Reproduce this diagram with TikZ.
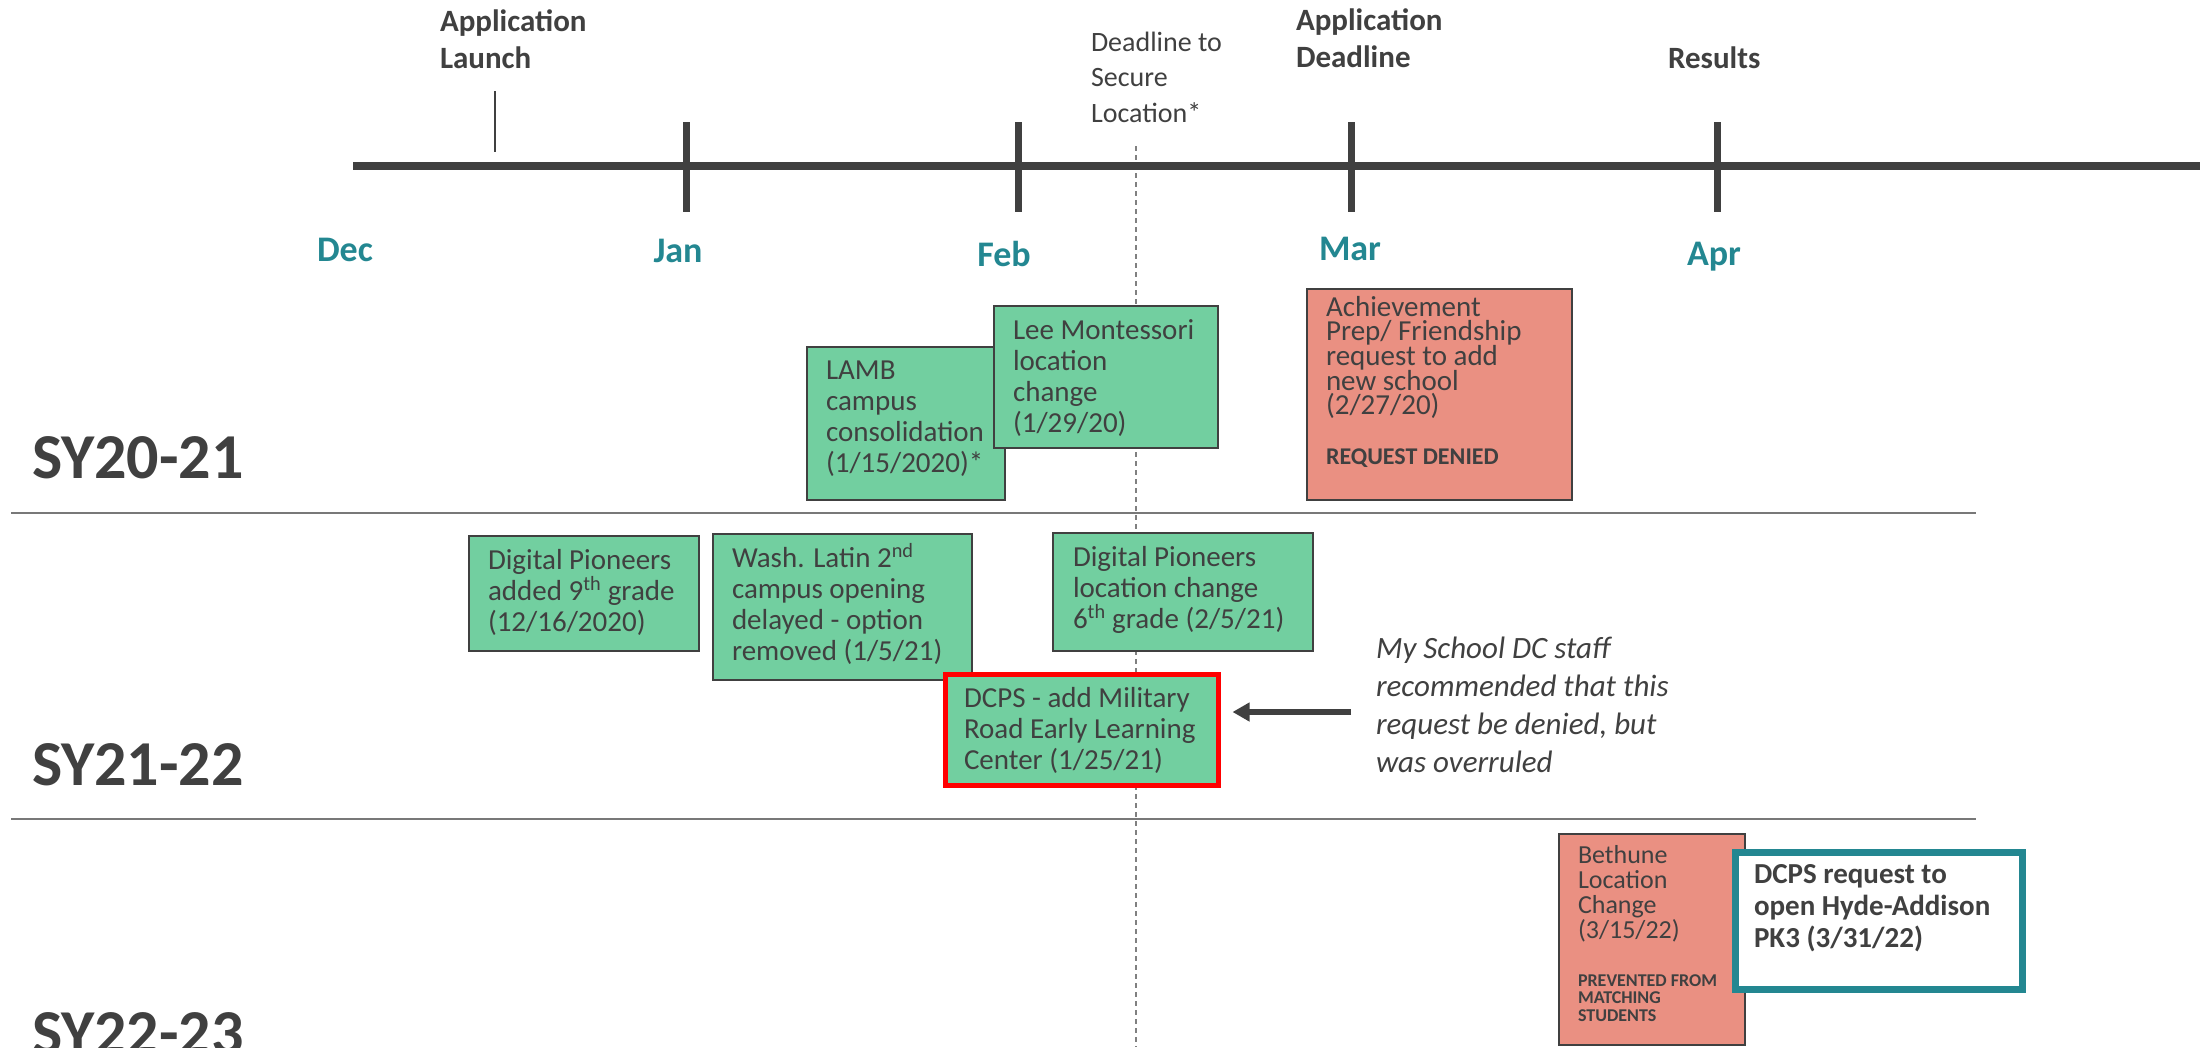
\documentclass[tikz,border=0pt]{standalone}
\usepackage{fontspec}
\setmainfont{Carlito}
\usetikzlibrary{arrows.meta}
\definecolor{txt}{RGB}{64,64,64}
\definecolor{gfill}{RGB}{114,207,160}
\definecolor{pfill}{RGB}{234,144,130}
\definecolor{monthteal}{RGB}{35,135,145}
\definecolor{sepgray}{RGB}{120,120,120}
\definecolor{dashgray}{RGB}{128,128,128}
\newcommand{\ml}[1]{\vtop{\lineskiplimit=-100pt\lineskip=0pt\halign{##\hfil\cr#1\crcr}}}
\begin{document}
\begin{tikzpicture}[x=1pt,y=-1pt,
  boxbase/.style={rectangle, anchor=north west, inner sep=0pt, outer sep=0pt},
  gbox/.style={boxbase, draw=txt, line width=2pt, fill=gfill},
  pbox/.style={boxbase, draw=txt, line width=2pt, fill=pfill},
  redbox/.style={boxbase, draw=red, line width=5pt, fill=gfill},
  tealbox/.style={boxbase, draw=monthteal, line width=7pt, fill=white},
  tx/.style={anchor=base west, inner sep=0pt, outer sep=0pt, text=txt},
  boxtext/.style={tx, font=\fontsize{29}{31}\selectfont},
  tighttext/.style={tx, font=\fontsize{29}{24.7}\selectfont},
  headbold/.style={tx, font=\fontsize{31}{37}\selectfont\bfseries},
  month/.style={anchor=base, inner sep=0pt, text=monthteal, font=\fontsize{36}{40}\selectfont\bfseries},
  yearlabel/.style={tx, font=\fontsize{64}{70}\selectfont\bfseries},
  axisline/.style={draw=txt, line width=8pt},
  tickline/.style={draw=txt, line width=7pt},
  sepline/.style={draw=sepgray, line width=2pt},
  dashline/.style={draw=dashgray, line width=1.5pt, dash pattern=on 5pt off 4pt},
  notearrow/.style={draw=txt, line width=6pt, -{Triangle[length=17pt,width=18pt]}}
]
\useasboundingbox (0,0) rectangle (2200,1047);

% row separators
\draw[sepline] (11,513) -- (1976,513);
\draw[sepline] (11,819) -- (1976,819);

% deadline dashed line
\draw[dashline] (1136,146) -- (1136,1047);

% timeline axis and ticks
\draw[axisline] (353,166) -- (2200,166);
\foreach \x in {686,1018,1351,1717} \draw[tickline] (\x,122) -- (\x,212);
\draw[draw=txt, line width=1.5pt] (495,91) -- (495,152);

% header labels
\node[headbold] (launch) at (440,31) {\ml{Application\cr Launch}};
\node[tx, font=\fontsize{28}{35.5}\selectfont] (secure) at (1091,51) {\ml{Deadline to\cr Secure\cr Location*}};
\node[headbold] (appdl) at (1296,30) {\ml{Application\cr Deadline}};
\node[headbold] (results) at (1668,68) {Results};

% months
\node[month] (dec) at (345,261) {Dec};
\node[month] (jan) at (678,262) {Jan};
\node[month] (feb) at (1004,266) {Feb};
\node[month] (mar) at (1350,260) {Mar};
\node[month] (apr) at (1714,265) {Apr};

% year labels
\node[yearlabel] (sy1) at (32,478) {SY20-21};
\node[yearlabel] (sy2) at (32,785) {SY21-22};
\node[yearlabel] (sy3) at (32,1054) {SY22-23};

% SY20-21 boxes
\node[gbox, minimum width=198pt, minimum height=153pt] (lamb) at (807,347) {};
\node[boxtext] (lambT) at (826,379) {\ml{LAMB\cr campus\cr consolidation\cr (1/15/2020)*}};
\node[gbox, minimum width=224pt, minimum height=142pt] (lee) at (994,306) {};
\node[boxtext] (leeT) at (1013,339) {\ml{Lee Montessori\cr location\cr change\cr (1/29/20)}};
\node[pbox, minimum width=265pt, minimum height=211pt] (ach) at (1307,289) {};
\node[tighttext] (achT) at (1326,316) {\ml{Achievement\cr Prep/ Friendship\cr request to add\cr new school\cr (2/27/20)}};
\node[tx, font=\fontsize{24}{26}\selectfont\bfseries] (achD) at (1326,464) {REQUEST DENIED};

% SY21-22 boxes
\node[gbox, minimum width=230pt, minimum height=115pt] (dp9) at (469,536) {};
\node[boxtext] (dp9T) at (488,569) {\ml{Digital Pioneers\cr added 9\textsuperscript{th} grade\cr (12/16/2020)}};
\node[gbox, minimum width=259pt, minimum height=146pt] (wash) at (713,534) {};
\node[boxtext] (washT) at (732,567) {\ml{Wash. Latin 2\textsuperscript{nd}\cr campus opening\cr delayed - option\cr removed (1/5/21)}};
\node[gbox, minimum width=260pt, minimum height=118pt] (dploc) at (1053,533) {};
\node[boxtext] (dplocT) at (1073,566) {\ml{Digital Pioneers\cr location change\cr 6\textsuperscript{th} grade (2/5/21)}};
\node[redbox, minimum width=273pt, minimum height=111pt] (dcps) at (945.5,674.5) {};
\node[boxtext] (dcpsT) at (964,707) {\ml{DCPS - add Military\cr Road Early Learning\cr Center (1/25/21)}};

% note and arrow
\node[tx, font=\fontsize{31}{38}\selectfont\itshape] (note) at (1376,658) {\ml{My School DC staff\cr recommended that this\cr request be denied, but\cr was overruled}};
\coordinate (arrtail) at (1351,712);
\draw[notearrow, shorten >=14pt] (arrtail) -- (arrtail -| dcps.east);

% SY22-23 boxes
\node[pbox, minimum width=186pt, minimum height=211pt] (beth) at (1559,834) {};
\node[tx, font=\fontsize{26}{25}\selectfont] (bethT) at (1578,863) {\ml{Bethune\cr Location\cr Change\cr (3/15/22)}};
\node[tx, font=\fontsize{18}{17.5}\selectfont\bfseries] (bethP) at (1578,986) {\ml{PREVENTED FROM\cr MATCHING\cr STUDENTS}};
\node[tealbox, minimum width=287pt, minimum height=137pt] (hyde) at (1735.5,852.5) {};
\node[tx, font=\fontsize{29}{32}\selectfont\bfseries] (hydeT) at (1754,883) {\ml{DCPS request to\cr open Hyde-Addison\cr PK3 (3/31/22)}};
\end{tikzpicture}
\end{document}
